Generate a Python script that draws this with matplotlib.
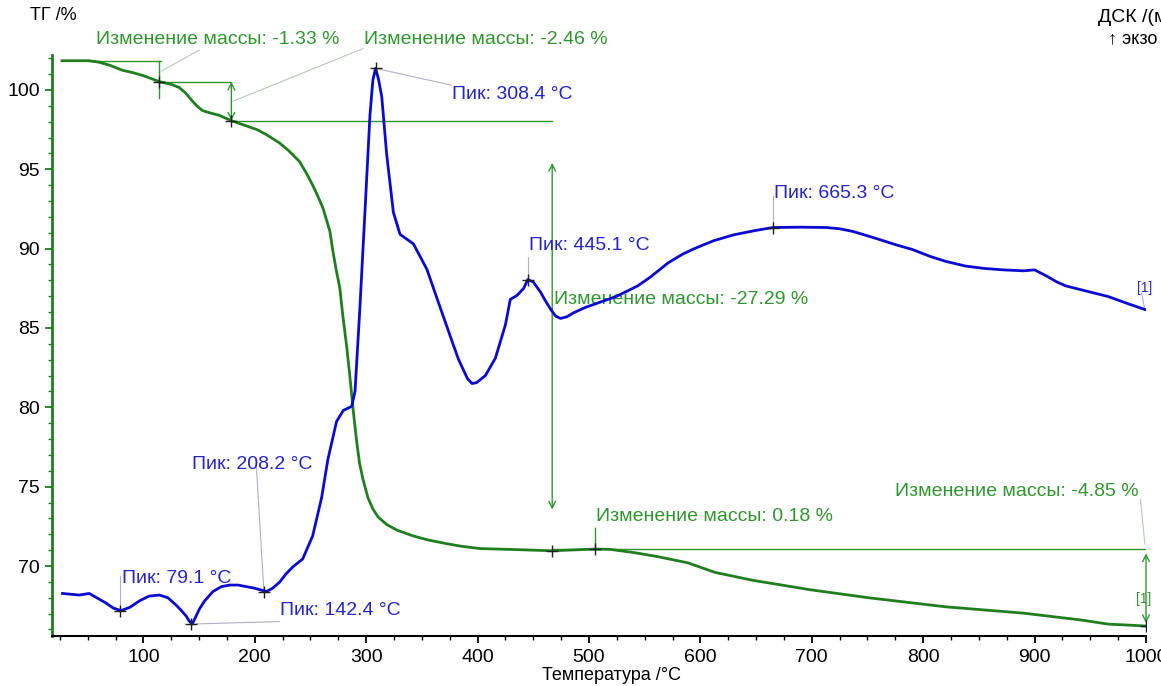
import numpy as np
import matplotlib
matplotlib.use('Agg')
import matplotlib.pyplot as plt
from matplotlib.ticker import MultipleLocator

plt.rcParams['font.family'] = ['Liberation Sans', 'DejaVu Sans']

# TG curve, %
tg_temp = [27, 51, 60, 70, 81, 90, 100, 114.4, 125, 132, 138, 144, 148, 153, 160, 168, 179,
           202, 210, 222, 230, 240, 246, 252, 256, 261, 264, 267.4, 270, 273, 276.4, 279,
           282.4, 285, 287, 289, 291.4, 294, 297, 301.6, 306, 310.6, 318.7, 328, 342, 355,
           372.7, 385, 402, 432, 467, 505.6, 519, 540, 561, 588.8, 613, 647, 699, 751, 820,
           890, 941.6, 966, 1000]
tg_mass = [101.84, 101.84, 101.75, 101.55, 101.24, 101.1, 100.9, 100.52, 100.35, 100.16, 99.8,
           99.3, 99.0, 98.7, 98.55, 98.4, 98.06, 97.5, 97.2, 96.67, 96.2, 95.5, 94.8, 94.0,
           93.4, 92.6, 91.9, 91.1, 89.9, 88.7, 87.5, 85.8, 83.9, 82.2, 80.8, 79.4, 77.9, 76.5,
           75.5, 74.3, 73.6, 73.1, 72.6, 72.25, 71.9, 71.65, 71.4, 71.25, 71.1, 71.04, 70.96,
           71.07, 71.05, 70.85, 70.6, 70.2, 69.6, 69.1, 68.5, 68.0, 67.43, 67.03, 66.6, 66.34,
           66.22]

# DSC curve, mW/mg
dsc_temp = [27.4, 42.4, 51.4, 66.4, 73, 80, 88, 96.4, 105, 114.4, 122, 129.4, 134, 138.4, 141,
            143.8, 147, 150.4, 155, 162.4, 170, 177.4, 185, 192.4, 200, 210.4, 216, 222.4, 228,
            234.4, 243, 252, 260, 265.6, 273.4, 279.4, 287, 290, 294.4, 298.9, 303.4, 306,
            308.4, 311, 314, 318.4, 324.4, 330.4, 342.4, 354.5, 366.4, 378.4, 383, 391, 395,
            399, 407, 416, 425, 429.4, 435.4, 441.4, 445.1, 450, 456.4, 461, 465.4, 470, 474.4,
            480, 486, 497, 509, 525, 543.7, 555, 571, 584, 595.6, 612, 630, 650, 665.3, 690,
            713, 725, 737, 755, 775.6, 790, 806.6, 820, 838, 855, 872, 890, 900, 910, 920, 928,
            945, 966, 985, 1000]
dsc_val = [-0.173, -0.183, -0.173, -0.233, -0.265, -0.281, -0.26, -0.22, -0.19, -0.183, -0.2,
           -0.246, -0.28, -0.315, -0.345, -0.366, -0.32, -0.27, -0.22, -0.161, -0.13, -0.12,
           -0.12, -0.13, -0.14, -0.161, -0.14, -0.101, -0.05, -0.004, 0.044, 0.19, 0.43, 0.67,
           0.91, 0.98, 1.006, 1.10, 1.63, 2.23, 2.84, 3.06, 3.136, 3.07, 2.957, 2.595, 2.23,
           2.09, 2.03, 1.87, 1.63, 1.39, 1.30, 1.18, 1.15, 1.155, 1.2, 1.31, 1.52, 1.68, 1.705,
           1.75, 1.805, 1.79, 1.727, 1.67, 1.62, 1.575, 1.56, 1.57, 1.595, 1.63, 1.66, 1.70,
           1.765, 1.82, 1.91, 1.965, 2.003, 2.05, 2.087, 2.115, 2.133, 2.135, 2.133, 2.125,
           2.108, 2.07, 2.024, 1.995, 1.95, 1.92, 1.89, 1.875, 1.866, 1.86, 1.866, 1.83, 1.79,
           1.765, 1.735, 1.698, 1.65, 1.614]

tg_marks_t = [114.4, 179, 467, 505.6, 1000]
tg_marks_v = [100.52, 98.06, 70.96, 71.07, 66.22]
dsc_peaks_t = [79.1, 142.4, 208.2, 308.4, 445.1, 665.3]
dsc_peaks_v = [-0.281, -0.366, -0.161, 3.136, 1.805, 2.133]

green = '#1f7f1f'
agreen = '#2f962f'
blue = '#0a0ad2'
tblue = '#2424c8'
gray = '#b0b0c8'

fig = plt.figure(figsize=(11.61, 6.86), dpi=100)
ax = fig.add_axes([52 / 1161, 1 - 636 / 686, (1146 - 52) / 1161, (636 - 55) / 686])
ax.set_xlim(18, 1000)
ax.set_ylim(65.59, 102.2)
ax2 = ax.twinx()
ax2.set_ylim(-0.441, 3.22)

ax.plot(tg_temp, tg_mass, color=green, lw=2.0, zorder=3)
ax2.plot(dsc_temp, dsc_val, color=blue, lw=2.0, zorder=3)
ax.plot(tg_marks_t, tg_marks_v, '+', color='#202020', ms=9, mew=1.0, zorder=5)
ax2.plot(dsc_peaks_t, dsc_peaks_v, '+', color='#202020', ms=9, mew=1.0, zorder=5)

# axes styling
for s in ['top', 'right']:
    ax.spines[s].set_visible(False)
    ax2.spines[s].set_visible(False)
ax2.spines['left'].set_visible(False)
ax2.spines['bottom'].set_visible(False)
ax2.set_yticks([])
ax.spines['left'].set_color(green)
ax.spines['left'].set_linewidth(2)
ax.spines['bottom'].set_linewidth(1.5)
ax.xaxis.set_major_locator(MultipleLocator(100))
ax.xaxis.set_minor_locator(MultipleLocator(25))
ax.yaxis.set_major_locator(MultipleLocator(5))
ax.yaxis.set_minor_locator(MultipleLocator(1))
ax.tick_params(axis='x', which='major', length=5, width=1.3, labelsize=14, pad=4)
ax.tick_params(axis='x', which='minor', length=3, width=1.0)
ax.tick_params(axis='y', which='major', length=5, width=1.3, color=green, labelsize=14)
ax.tick_params(axis='y', which='minor', length=3, width=1.0, color=green)
ax.set_xticks(np.arange(100, 1001, 100))
ax.set_xticklabels([str(v) for v in range(100, 1001, 100)])
ax.set_yticks(np.arange(70, 101, 5))

fig.text(611 / 1161, 1 - 675 / 686, 'Температура /°C', ha='center', va='center', fontsize=13)
fig.text(30 / 1161, 1 - 15 / 686, 'ТГ /%', ha='left', va='center', fontsize=13)
fig.text(1098 / 1161, 1 - 17 / 686, 'ДСК /(мВт/мг)', ha='left', va='center', fontsize=14)
fig.text(1108 / 1161, 1 - 39 / 686, '↑ экзо', ha='left', va='center', fontsize=13)

# TG mass change annotations
lk = dict(color=agreen, lw=1.0, zorder=2)
ax.plot([51, 116], [101.84, 101.84], **lk)
ax.plot([114.4, 114.4], [101.84, 99.5], **lk)
ax.plot([114.4, 179], [100.52, 100.52], **lk)
ax.plot([179, 467], [98.06, 98.06], **lk)
ax.plot([467, 1000], [71.05, 71.05], **lk)
ax.plot([505.6, 505.6], [71.07, 72.4], **lk)
ak = dict(arrowstyle='<->', color=agreen, lw=1.0, mutation_scale=12, shrinkA=0, shrinkB=0)
ax.annotate('', xy=(179, 98.06), xytext=(179, 100.52), arrowprops=ak)
ax.annotate('', xy=(467, 73.56), xytext=(467, 95.4), arrowprops=ak)
ax.annotate('', xy=(1000, 66.4), xytext=(1000, 70.8), arrowprops=ak)

gk = dict(color='#b8c8b8', lw=0.8, zorder=1, clip_on=False)
ax.plot([116.5, 150], [101.2, 102.5], **gk)
ax.plot([181, 297], [99.3, 102.6], **gk)
ax.plot([999, 995], [71.4, 74.2], **gk)

tk = dict(color=agreen, fontsize=14, clip_on=False)
ax.text(57.5, 103.2, 'Изменение массы: -1.33 %', ha='left', va='center', **tk)
ax.text(298, 103.2, 'Изменение массы: -2.46 %', ha='left', va='center', **tk)
ax.text(469, 86.8, 'Изменение массы: -27.29 %', ha='left', va='center', **tk)
ax.text(506, 73.1, 'Изменение массы: 0.18 %', ha='left', va='center', **tk)
ax.text(993, 74.7, 'Изменение массы: -4.85 %', ha='right', va='center', **tk)
ax.text(998, 67.9, '[1]', ha='center', va='center', color=agreen, fontsize=10)

# DSC peak annotations
bk = dict(color=gray, lw=0.8, zorder=1)
ax2.plot([308.4, 376.5], [3.136, 3.03], **bk)
ax2.plot([445.1, 445.1], [1.805, 1.95], **bk)
ax2.plot([665.3, 665.3], [2.133, 2.33], **bk)
ax2.plot([208.2, 201], [-0.161, 0.68], **bk)
ax2.plot([79.1, 79.1], [-0.281, -0.06], **bk)
ax2.plot([142.4, 222], [-0.366, -0.35], **bk)
ax2.plot([999, 996], [1.614, 1.72], **bk)

pk = dict(color=tblue, fontsize=14, ha='left', va='center')
ax2.text(377, 2.97, 'Пик: 308.4 °C', **pk)
ax2.text(446.5, 2.02, 'Пик: 445.1 °C', **pk)
ax2.text(666, 2.35, 'Пик: 665.3 °C', **pk)
ax2.text(144, 0.64, 'Пик: 208.2 °C', **pk)
ax2.text(80.5, -0.08, 'Пик: 79.1 °C', **pk)
ax2.text(222.5, -0.28, 'Пик: 142.4 °C', **pk)
ax2.text(999, 1.75, '[1]', ha='center', va='center', color=tblue, fontsize=10)

fig.savefig('out.png', dpi=100)
